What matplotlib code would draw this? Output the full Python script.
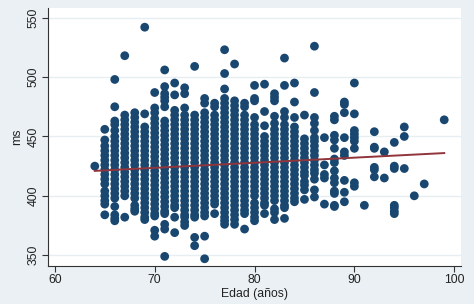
import matplotlib
matplotlib.use("Agg")
import matplotlib.pyplot as plt

# ms values observed at each age (años)
a64 = [425]
a65 = [456, 447, 442, 438, 434, 430, 426, 422, 418, 414, 410, 404, 400, 396, 393, 384]
a66 = [498, 475, 463, 460, 455, 450, 446, 442, 438, 434, 430, 426, 422, 418, 414, 410, 406, 402, 398, 391, 384, 381, 379]
a67 = [518, 468, 464, 460, 456, 452, 448, 444, 440, 436, 432, 428, 424, 420, 416, 412, 408, 404, 400, 382]
a68 = [470, 466, 462, 458, 454, 450, 446, 442, 438, 434, 430, 426, 422, 418, 414, 410, 406, 402, 398, 392, 389, 387]
a69 = [542, 469, 458, 454, 450, 446, 442, 438, 434, 430, 426, 422, 418, 414, 410, 406, 402, 398, 394, 390, 386, 382, 380]
a70 = [487, 474, 470, 465, 461, 457, 453, 449, 445, 441, 437, 433, 429, 425, 421, 417, 413, 409, 405, 401, 397, 393, 389, 385, 383, 371, 366]
a71 = [506, 492, 486, 483, 480, 475, 463, 459, 455, 451, 447, 443, 439, 435, 431, 427, 423, 419, 415, 411, 407, 403, 399, 395, 391, 387, 385, 376, 372, 349]
a72 = [495, 485, 472, 468, 464, 460, 456, 452, 448, 444, 440, 436, 432, 428, 424, 420, 416, 412, 408, 404, 400, 396, 392, 390, 382, 369]
a73 = [491, 486, 474, 468, 464, 460, 456, 452, 448, 444, 440, 436, 432, 428, 424, 420, 416, 412, 408, 404, 400, 396, 392, 388, 384, 382, 378, 375]
a74 = [509, 468, 464, 460, 456, 452, 448, 444, 440, 436, 432, 428, 424, 420, 416, 412, 408, 404, 400, 396, 392, 388, 384, 382, 365, 358]
a75 = [482, 478, 470, 466, 462, 458, 454, 450, 446, 442, 438, 434, 430, 426, 422, 418, 414, 410, 406, 402, 398, 394, 390, 386, 383, 366, 347]
a76 = [478, 475, 468, 464, 460, 456, 452, 448, 444, 440, 436, 432, 428, 424, 420, 416, 412, 408, 404, 400, 396, 393, 385]
a77 = [523, 503, 490, 482, 478, 474, 470, 466, 462, 458, 454, 450, 446, 442, 438, 434, 430, 426, 422, 418, 414, 410, 406, 402, 398, 394, 390, 386, 382, 379, 376]
a78 = [511, 480, 476, 472, 468, 464, 460, 456, 452, 448, 444, 440, 436, 432, 428, 424, 420, 416, 412, 408, 404, 400, 396, 392, 388, 384, 380, 376]
a79 = [478, 475, 468, 464, 460, 456, 452, 448, 444, 440, 436, 432, 428, 424, 420, 416, 412, 408, 404, 400, 396, 392, 388, 385, 372]
a80 = [493, 482, 480, 466, 460, 456, 452, 448, 444, 440, 436, 432, 428, 424, 420, 416, 412, 408, 404, 400, 394, 390, 386, 382, 379]
a81 = [494, 471, 459, 450, 446, 442, 438, 434, 430, 426, 422, 418, 414, 410, 406, 402, 398, 394, 392, 385]
a82 = [486, 483, 480, 467, 461, 456, 452, 448, 444, 440, 436, 432, 428, 424, 420, 416, 412, 408, 404, 400, 396, 389, 386, 380]
a83 = [516, 493, 471, 466, 460, 456, 452, 448, 444, 440, 436, 432, 428, 424, 420, 416, 412, 408, 404, 400, 396, 392, 390, 381]
a84 = [495, 479, 466, 458, 454, 450, 446, 442, 438, 434, 430, 426, 422, 418, 414, 410, 406, 402, 398, 395]
a85 = [468, 448, 444, 440, 436, 432, 428, 424, 420, 417, 412, 409, 405, 397]
a86 = [526, 487, 466, 461, 455, 449, 446, 442, 438, 434, 430, 426, 422, 419, 414, 405, 399]
a87 = [449, 426, 418, 415, 393]
a88 = [467, 464, 451, 447, 440, 431, 428, 421, 415, 411, 404, 402, 392, 391]
a89 = [479, 477, 470, 449, 437, 434, 413, 403, 395]
a90 = [495, 469, 455, 452, 449, 446, 440, 411, 408]
a91 = [392]
a92 = [454, 441, 440, 424, 422, 416]
a93 = [437, 415]
a94 = [445, 425, 423, 392, 390, 387, 385]
a95 = [458, 450, 423]
a96 = [400]
a97 = [410]
a99 = [464]

ages = [64, 65, 66, 67, 68, 69, 70, 71, 72, 73, 74, 75, 76, 77, 78, 79, 80, 81,
        82, 83, 84, 85, 86, 87, 88, 89, 90, 91, 92, 93, 94, 95, 96, 97, 99]
columns = [a64, a65, a66, a67, a68, a69, a70, a71, a72, a73, a74, a75, a76, a77,
           a78, a79, a80, a81, a82, a83, a84, a85, a86, a87, a88, a89, a90, a91,
           a92, a93, a94, a95, a96, a97, a99]

# fitted line endpoints
fit_x = [64, 99]
fit_y = [421, 436]

x_ticks = [60, 70, 80, 90, 100]
y_ticks = [350, 400, 450, 500, 550]

xs, ys = [], []
for a, col in zip(ages, columns):
    xs.extend([a] * len(col))
    ys.extend(col)

plt.rcParams['font.family'] = ['Liberation Sans', 'DejaVu Sans']

fig = plt.figure(figsize=(4.74, 3.04), dpi=100)
fig.patch.set_facecolor('#eaf0f3')
ax = fig.add_axes([0.101, 0.125, 0.872, 0.848])
ax.set_facecolor('white')

ax.set_xlim(59.3, 100.7)
ax.set_ylim(340.9, 558)

for yv in y_ticks:
    ax.axhline(yv, color='#e6eef1', lw=1.0, zorder=0)

ax.scatter(xs, ys, s=40, color='#1a476f', edgecolors='none', zorder=2)
ax.plot(fit_x, fit_y, color='#90353b', lw=1.4, zorder=3)

ax.set_xticks(x_ticks)
ax.set_yticks(y_ticks)
ax.set_yticklabels([str(v) for v in y_ticks], rotation=90, va='center')
ax.tick_params(axis='both', direction='out', length=4, width=0.8,
               colors='#333333', labelsize=8.8, labelcolor='#222222', pad=2)

for side in ['top', 'right']:
    ax.spines[side].set_visible(False)
for side in ['left', 'bottom']:
    ax.spines[side].set_color('#333333')
    ax.spines[side].set_linewidth(0.8)

ax.set_xlabel('Edad (años)', fontsize=8.8, color='#222222', labelpad=1)
ax.set_ylabel('ms', fontsize=8.8, color='#222222', labelpad=3)

fig.savefig('out.png', dpi=100, facecolor=fig.get_facecolor())
